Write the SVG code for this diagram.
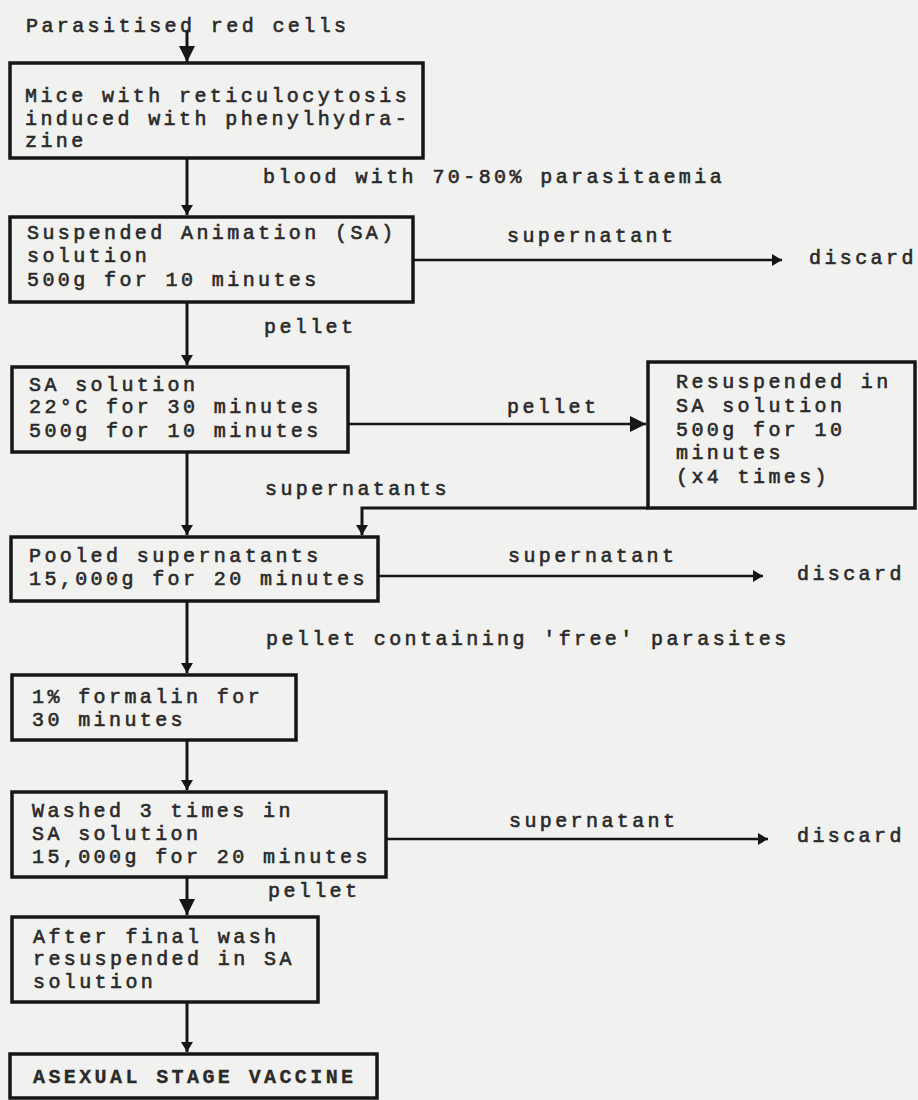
<svg xmlns="http://www.w3.org/2000/svg" width="918" height="1100" viewBox="0 0 918 1100">
<style>
.t{font-family:"Liberation Mono","DejaVu Sans Mono",monospace;font-size:20px;letter-spacing:3.4px;fill:#2a2a2a;stroke:#2a2a2a;stroke-width:0.6}
.b{font-weight:bold;stroke-width:0.3}
.box{fill:none;stroke:#161616;stroke-width:3.5}
.ln{fill:none;stroke:#161616;stroke-width:3}
.hl{fill:none;stroke:#161616;stroke-width:2.5}
</style>
<defs>
<marker id="ah" markerUnits="userSpaceOnUse" viewBox="0 0 10 12" refX="10" refY="6" markerWidth="10" markerHeight="12" orient="auto"><path d="M0,0 L10,6 L0,12 Z" fill="#161616"/></marker>
<marker id="ahb" markerUnits="userSpaceOnUse" viewBox="0 0 16 16" refX="16" refY="8" markerWidth="16" markerHeight="16" orient="auto"><path d="M0,0 L16,8 L0,16 Z" fill="#161616"/></marker>
</defs>
<rect x="0" y="0" width="918" height="1100" fill="#f1f1ef"/>

<g id="connectors">
<path class="ln" d="M187,30 L187,62" marker-end="url(#ahb)"/>
<path class="ln" d="M187,158 L187,215" marker-end="url(#ah)"/>
<text class="t" x="263" y="183">blood with 70-80% parasitaemia</text>
<path class="hl" d="M413,260 L782,260" marker-end="url(#ah)"/>
<text class="t" x="507" y="242">supernatant</text>
<path class="ln" d="M187,302 L187,365" marker-end="url(#ah)"/>
<text class="t" x="264" y="333">pellet</text>
<path class="hl" d="M348,424 L646,424" marker-end="url(#ahb)"/>
<text class="t" x="507" y="413">pellet</text>
<path class="ln" d="M187,452 L187,535" marker-end="url(#ah)"/>
<text class="t" x="265" y="495">supernatants</text>
<path class="ln" d="M648,508 L362,508 L362,535" marker-end="url(#ah)"/>
<path class="hl" d="M378,576 L763,576" marker-end="url(#ah)"/>
<text class="t" x="508" y="562">supernatant</text>
<path class="ln" d="M187,601 L187,673" marker-end="url(#ah)"/>
<text class="t" x="266" y="645">pellet containing 'free' parasites</text>
<path class="ln" d="M187,740 L187,790" marker-end="url(#ah)"/>
<path class="hl" d="M386,839 L768,839" marker-end="url(#ah)"/>
<text class="t" x="509" y="827">supernatant</text>
<path class="ln" d="M187,877 L187,915" marker-end="url(#ahb)"/>
<text class="t" x="268" y="897">pellet</text>
<path class="ln" d="M187,1002 L187,1052" marker-end="url(#ah)"/>
</g>

<g id="node-start">
<text class="t" x="26" y="32">Parasitised red cells</text>
</g>

<g id="node-mice">
<rect class="box" x="10" y="63" width="413" height="95"/>
<text class="t" x="25" y="102">Mice with reticulocytosis</text>
<text class="t" x="25" y="124.5">induced with phenylhydra-</text>
<text class="t" x="25" y="147">zine</text>
</g>

<g id="node-sa1">
<rect class="box" x="10" y="217" width="403" height="85"/>
<text class="t" x="27" y="239">Suspended Animation (SA)</text>
<text class="t" x="27" y="262">solution</text>
<text class="t" x="27" y="286">500g for 10 minutes</text>
</g>

<g id="node-discard1">
<text class="t" x="809" y="264">discard</text>
</g>

<g id="node-sa2">
<rect class="box" x="12" y="367" width="336" height="85"/>
<text class="t" x="29" y="391">SA solution</text>
<text class="t" x="29" y="413">22°C for 30 minutes</text>
<text class="t" x="29" y="437">500g for 10 minutes</text>
</g>

<g id="node-resuspended">
<rect class="box" x="648" y="362" width="267" height="146"/>
<text class="t" x="676" y="388">Resuspended in</text>
<text class="t" x="676" y="412">SA solution</text>
<text class="t" x="676" y="436">500g for 10</text>
<text class="t" x="676" y="459">minutes</text>
<text class="t" x="676" y="483">(x4 times)</text>
</g>

<g id="node-pooled">
<rect class="box" x="11" y="537" width="367" height="64"/>
<text class="t" x="29" y="562">Pooled supernatants</text>
<text class="t" x="29" y="585">15,000g for 20 minutes</text>
</g>

<g id="node-discard2">
<text class="t" x="797" y="580">discard</text>
</g>

<g id="node-formalin">
<rect class="box" x="12" y="675" width="284" height="65"/>
<text class="t" x="32" y="703">1% formalin for</text>
<text class="t" x="32" y="726">30 minutes</text>
</g>

<g id="node-washed">
<rect class="box" x="12" y="792" width="374" height="85"/>
<text class="t" x="32" y="817">Washed 3 times in</text>
<text class="t" x="32" y="840">SA solution</text>
<text class="t" x="32" y="863">15,000g for 20 minutes</text>
</g>

<g id="node-discard3">
<text class="t" x="797" y="842">discard</text>
</g>

<g id="node-final">
<rect class="box" x="12" y="917" width="306" height="85"/>
<text class="t" x="33" y="943">After final wash</text>
<text class="t" x="33" y="965">resuspended in SA</text>
<text class="t" x="33" y="988">solution</text>
</g>

<g id="node-vaccine">
<rect class="box" x="10" y="1054" width="367" height="44"/>
<text class="t b" x="33" y="1083">ASEXUAL STAGE VACCINE</text>
</g>
</svg>
